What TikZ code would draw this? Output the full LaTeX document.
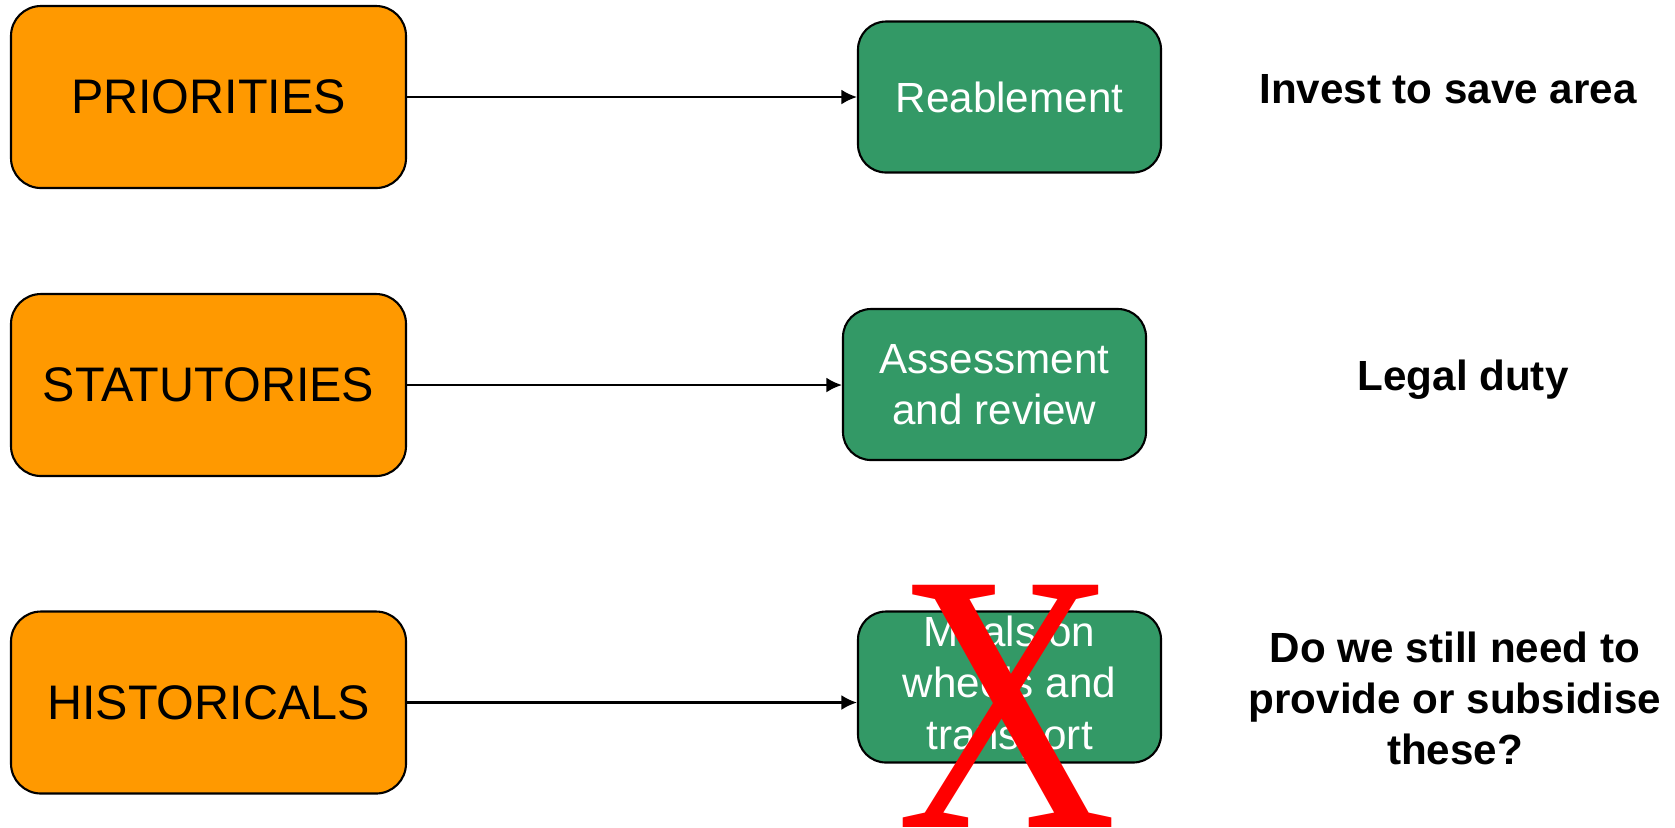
\documentclass[tikz,border=0pt]{standalone}
\usepackage{fontspec}
\setmainfont{Liberation Sans}
\newfontfamily\serifx{Liberation Serif}
\usepackage{tikz}
\usetikzlibrary{arrows.meta}

\definecolor{boxorange}{RGB}{255,153,0}
\definecolor{boxgreen}{RGB}{51,153,102}

\begin{document}
\begin{tikzpicture}[
  kind/.style={draw=black, line width=0.6pt, fill=boxorange, rounded corners=0.3cm,
    minimum width=3.95cm, minimum height=1.82cm, font=\fontsize{13.8}{16}\selectfont},
  service/.style={draw=black, line width=0.6pt, fill=boxgreen, rounded corners=0.28cm,
    minimum width=3.03cm, minimum height=1.51cm, inner ysep=1pt, text=white, align=center,
    font=\fontsize{12}{14.6}\selectfont},
  remark/.style={align=center, font=\fontsize{12}{14.6}\selectfont\bfseries},
  link/.style={line width=0.6pt, -{Latex[length=4.4pt,width=4.2pt]}}
]
\useasboundingbox (0,0) rectangle (16.75,-8.27);

% left column
\node[kind] (pri) at (2.085,-0.97) {PRIORITIES};
\node[kind] (stat) at (2.085,-3.85) {STATUTORIES};
\node[kind] (hist) at (2.085,-7.025) {HISTORICALS};

% services
\node[service] (reab) at (10.095,-0.97) {Reablement};
\node[service] (assess) at (9.945,-3.845) {Assessment\\and review};
\node[service] (meals) at (10.095,-6.87) {Meals on\\wheels and\\transport};

\draw[link] (pri.east) -- (pri.east -| reab.west);
\draw[link] (stat.east) -- (stat.east -| assess.west);
\draw[link] (hist.east) -- (hist.east -| meals.west);

% right column
\node[remark, anchor=base] (invest) at (14.48,-1.03) {Invest to save area};
\node[remark, anchor=base] (legal) at (14.63,-3.90) {Legal duty};
\node[remark] (still) at (14.55,-6.985) {Do we still need to\\provide or subsidise\\these?};

% cross over the historic service
\node[red, inner sep=0, anchor=base] (cross) at (10.065,-8.27)
  {\scalebox{1}[1.21]{\serifx\fontsize{87}{87}\selectfont X}};
\end{tikzpicture}
\end{document}
